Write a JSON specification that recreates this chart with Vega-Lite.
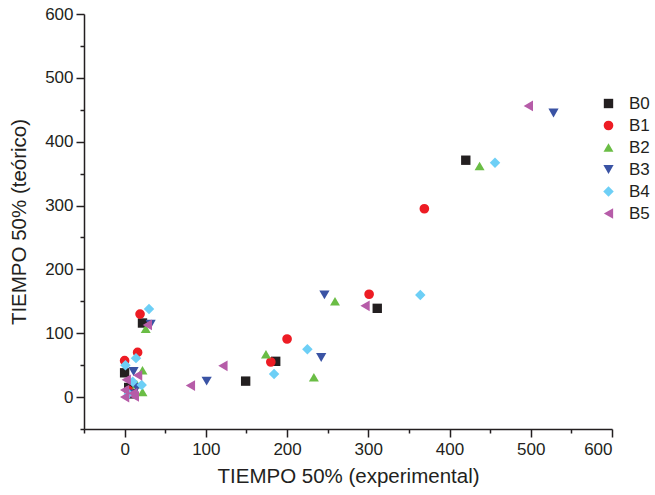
{
  "$schema": "https://vega.github.io/schema/vega-lite/v6.json",
  "width": 528,
  "height": 415,
  "autosize": {"type": "none"},
  "padding": {"left": 84, "top": 14, "right": 43, "bottom": 66},
  "config": {
    "view": {"stroke": null},
    "font": "Liberation Sans",
    "axis": {"grid": false, "domainColor": "#231f20", "tickColor": "#231f20", "domainWidth": 1.5, "tickWidth": 1.5, "labelColor": "#231f20", "titleColor": "#231f20", "labelFont": "Liberation Sans", "titleFont": "Liberation Sans", "labelFontSize": 17, "titleFontSize": 20.5, "titleFontWeight": "normal"}
  },
  "data": {
    "values": [
      {"x": 22, "y": 116, "s": "B0"},
      {"x": 420, "y": 371, "s": "B0"},
      {"x": 311, "y": 139, "s": "B0"},
      {"x": 186, "y": 56, "s": "B0"},
      {"x": 149, "y": 25, "s": "B0"},
      {"x": 0, "y": 38, "s": "B0"},
      {"x": 5, "y": 15, "s": "B0"},
      {"x": 10, "y": 5, "s": "B0"},
      {"x": 19, "y": 130, "s": "B1"},
      {"x": 369, "y": 295, "s": "B1"},
      {"x": 301, "y": 161, "s": "B1"},
      {"x": 200, "y": 91, "s": "B1"},
      {"x": 180, "y": 55, "s": "B1"},
      {"x": 0, "y": 57, "s": "B1"},
      {"x": 16, "y": 70, "s": "B1"},
      {"x": 5, "y": 10, "s": "B1"},
      {"x": 26, "y": 107, "s": "B2"},
      {"x": 437, "y": 362, "s": "B2"},
      {"x": 259, "y": 150, "s": "B2"},
      {"x": 174, "y": 67, "s": "B2"},
      {"x": 233, "y": 31, "s": "B2"},
      {"x": 22, "y": 42, "s": "B2"},
      {"x": 22, "y": 8, "s": "B2"},
      {"x": 15, "y": 20, "s": "B2"},
      {"x": 32, "y": 114, "s": "B3"},
      {"x": 528, "y": 445, "s": "B3"},
      {"x": 246, "y": 160, "s": "B3"},
      {"x": 242, "y": 62, "s": "B3"},
      {"x": 101, "y": 25, "s": "B3"},
      {"x": 11, "y": 40, "s": "B3"},
      {"x": 5, "y": 5, "s": "B3"},
      {"x": 15, "y": 15, "s": "B3"},
      {"x": 30, "y": 138, "s": "B4"},
      {"x": 456, "y": 367, "s": "B4"},
      {"x": 364, "y": 160, "s": "B4"},
      {"x": 225, "y": 75, "s": "B4"},
      {"x": 184, "y": 36, "s": "B4"},
      {"x": 1, "y": 50, "s": "B4"},
      {"x": 14, "y": 61, "s": "B4"},
      {"x": 10, "y": 24, "s": "B4"},
      {"x": 21, "y": 19, "s": "B4"},
      {"x": 5, "y": 5, "s": "B4"},
      {"x": 28, "y": 113, "s": "B5"},
      {"x": 497, "y": 456, "s": "B5"},
      {"x": 296, "y": 143, "s": "B5"},
      {"x": 121, "y": 49, "s": "B5"},
      {"x": 81, "y": 18, "s": "B5"},
      {"x": 2, "y": 27, "s": "B5"},
      {"x": 16, "y": 34, "s": "B5"},
      {"x": 0, "y": 11, "s": "B5"},
      {"x": 10, "y": 6, "s": "B5"},
      {"x": 0, "y": 0, "s": "B5"},
      {"x": 12, "y": 1, "s": "B5"}
    ]
  },
  "mark": {"type": "point", "filled": true, "opacity": 1},
  "encoding": {
    "x": {
      "field": "x", "type": "quantitative",
      "scale": {"domain": [-50, 600], "nice": false, "zero": false},
      "axis": {
        "title": "TIEMPO 50% (experimental)",
        "values": [-50, 0, 50, 100, 150, 200, 250, 300, 350, 400, 450, 500, 550, 600],
        "labelExpr": "datum.value % 100 === 0 ? datum.label : ''",
        "tickSize": {"condition": {"test": "datum.value % 100 === 0", "value": 8}, "value": 4},
        "labelPadding": 4,
        "titlePadding": 9
      }
    },
    "y": {
      "field": "y", "type": "quantitative",
      "scale": {"domain": [-50, 600], "nice": false, "zero": false},
      "axis": {
        "title": "TIEMPO 50% (teórico)",
        "values": [-50, 0, 50, 100, 150, 200, 250, 300, 350, 400, 450, 500, 550, 600],
        "labelExpr": "datum.value % 100 === 0 ? datum.label : ''",
        "tickSize": {"condition": {"test": "datum.value % 100 === 0", "value": 8}, "value": 4},
        "labelPadding": 3,
        "titlePadding": 15
      }
    },
    "color": {
      "field": "s", "type": "nominal",
      "scale": {"domain": ["B0", "B1", "B2", "B3", "B4", "B5"], "range": ["#231f20", "#ed1c24", "#6abd45", "#3a53a4", "#6dcff6", "#b65ca8"]},
      "legend": {"title": null, "orient": "none", "legendX": 516, "legendY": 81, "labelFontSize": 17, "labelFont": "Liberation Sans", "labelColor": "#231f20", "rowPadding": 4, "labelOffset": 12, "symbolOpacity": 1}
    },
    "shape": {
      "field": "s", "type": "nominal",
      "scale": {"domain": ["B0", "B1", "B2", "B3", "B4", "B5"], "range": ["square", "circle", "triangle-up", "triangle-down", "diamond", "triangle-left"]}
    },
    "size": {
      "field": "s", "type": "nominal",
      "scale": {"domain": ["B0", "B1", "B2", "B3", "B4", "B5"], "range": [88, 115, 165, 165, 175, 150]}
    }
  }
}
